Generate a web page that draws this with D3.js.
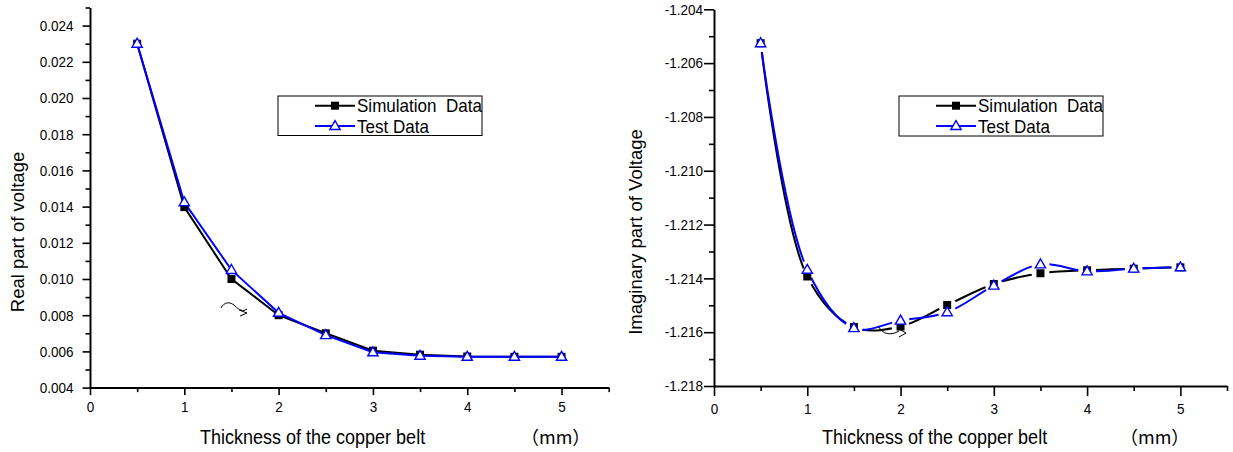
<!DOCTYPE html>
<html><head><meta charset="utf-8">
<script src="https://cdn.jsdelivr.net/npm/d3@7"></script>
<style>
body{margin:0;background:#fff}
svg{display:block}
text{font-family:"Liberation Sans",Arial,sans-serif;fill:#000}
</style>
</head><body>
<svg id="c" width="1233" height="452"></svg>
<script>
// ---- data ----
const thickness = [0.5, 1, 1.5, 2, 2.5, 3, 3.5, 4, 4.5, 5];
const realSim  = [0.0230, 0.01397, 0.0100, 0.0080, 0.0070, 0.00604, 0.00582, 0.00572, 0.0057, 0.0057];
const realTest = [0.0230, 0.01424, 0.0105, 0.00813, 0.0069, 0.00595, 0.00576, 0.0057, 0.0057, 0.0057];
const imagSim  = [-1.20526, -1.21393, -1.21581, -1.21579, -1.21499, -1.21421, -1.21381, -1.2137, -1.21364, -1.21359];
const imagTest = [-1.20526, -1.21368, -1.21585, -1.21557, -1.21526, -1.21427, -1.21348, -1.21374, -1.21364, -1.21359];
const xMajorTicks = [0, 1, 2, 3, 4, 5];
const xMinorTicks = [0.5, 1.5, 2.5, 3.5, 4.5, 5.5];
const realMajorTicks = [0.004, 0.006, 0.008, 0.010, 0.012, 0.014, 0.016, 0.018, 0.020, 0.022, 0.024];
const realMinorTicks = [0.005, 0.007, 0.009, 0.011, 0.013, 0.015, 0.017, 0.019, 0.021, 0.023, 0.025];
const imagMajorTicks = [-1.218, -1.216, -1.214, -1.212, -1.210, -1.208, -1.206, -1.204];
const imagMinorTicks = [-1.217, -1.215, -1.213, -1.211, -1.209, -1.207, -1.205];
const seriesNames = ["Simulation  Data", "Test Data"];
const xTitle = "Thickness of the copper belt";
const xUnit = "（mm）";
const realTitle = "Real part of voltage";
const imagTitle = "Imaginary part of Voltage";

const svg = d3.select("#c");
const font = '"Liberation Sans", Arial, sans-serif';
const fmt3 = v => d3.format(".3f")(v).replace("−", "-");

function squeeze(sel, f) {
  sel.each(function () {
    const l = this.getComputedTextLength();
    this.setAttribute("textLength", (l * f).toFixed(2));
    this.setAttribute("lengthAdjust", "spacingAndGlyphs");
  });
}

function drawChart(cfg) {
  const g = svg.append("g");
  const x = d3.scaleLinear().domain([0, 5.5]).range(cfg.xRange);
  const y = d3.scaleLinear().domain(cfg.yDomain).range(cfg.yRange);

  // minor ticks
  g.append("g").attr("transform", `translate(0,${cfg.yRange[0]})`)
    .call(d3.axisBottom(x).tickValues(xMinorTicks).tickSize(cfg.minorLen).tickFormat(""))
    .call(a => a.select(".domain").remove())
    .call(a => a.selectAll("line").attr("stroke-width", 1.6));
  g.append("g").attr("transform", `translate(${cfg.xRange[0]},0)`)
    .call(d3.axisLeft(y).tickValues(cfg.yMinor).tickSize(cfg.minorLen).tickFormat(""))
    .call(a => a.select(".domain").remove())
    .call(a => a.selectAll("line").attr("stroke-width", 1.6));
  // major
  g.append("g").attr("transform", `translate(0,${cfg.yRange[0]})`)
    .call(d3.axisBottom(x).tickValues(xMajorTicks).tickSize(cfg.majorLen).tickSizeOuter(0)
      .tickPadding(cfg.xPad).tickFormat(d3.format("d")))
    .call(a => a.select(".domain").attr("stroke-width", 2))
    .call(a => a.selectAll("line").attr("stroke-width", 1.6))
    .call(a => a.selectAll("text").style("font-family", font).style("font-size", "15px").call(squeeze, 0.9));
  g.append("g").attr("transform", `translate(${cfg.xRange[0]},0)`)
    .call(d3.axisLeft(y).tickValues(cfg.yMajor).tickSize(cfg.majorLen).tickSizeOuter(0)
      .tickPadding(cfg.yPad).tickFormat(fmt3))
    .call(a => a.select(".domain").attr("stroke-width", 2))
    .call(a => a.selectAll("line").attr("stroke-width", 1.6))
    .call(a => a.selectAll("text").style("font-family", font).style("font-size", "15px").call(squeeze, 0.9));

  // titles
  g.append("text").attr("x", cfg.xTitleX).attr("y", 444)
    .style("font-size", "20px").text(xTitle).call(squeeze, 0.9);
  g.append("text").attr("x", cfg.unitX).attr("y", 444)
    .style("font-size", "18px").style("font-family", '"Noto Sans CJK SC", sans-serif').text(xUnit);
  g.append("text").attr("transform", `translate(${cfg.yTitleX},232) rotate(-90)`)
    .attr("text-anchor", "middle").style("font-size", "18.5px").text(cfg.yTitle);

  // lines
  const line = d3.line().x(d => x(d[0])).y(d => y(d[1])).curve(cfg.curve);
  const series = [
    {vals: cfg.sim, color: "#000", id: cfg.id + "s"},
    {vals: cfg.test, color: "#0000ff", id: cfg.id + "t"}
  ];
  const defs = svg.append("defs");
  series.forEach(s => {
    const pts = thickness.map((t, i) => [t, s.vals[i]]);
    const p = g.append("path").datum(pts).attr("d", line)
      .attr("fill", "none").attr("stroke", s.color).attr("stroke-width", 2);
    if (cfg.gap) {
      const m = defs.append("mask").attr("id", s.id).attr("maskUnits", "userSpaceOnUse")
        .attr("x", 0).attr("y", 0).attr("width", 1233).attr("height", 452);
      m.append("rect").attr("width", 1233).attr("height", 452).attr("fill", "#fff");
      m.selectAll("circle").data(pts).join("circle")
        .attr("cx", d => x(d[0])).attr("cy", d => y(d[1])).attr("r", cfg.gap).attr("fill", "#000");
      p.attr("mask", `url(#${s.id})`);
    }
  });
  // markers
  const simPts = thickness.map((t, i) => [t, cfg.sim[i]]);
  const testPts = thickness.map((t, i) => [t, cfg.test[i]]);
  g.selectAll(".sq").data(simPts).join("rect")
    .attr("x", d => x(d[0]) - 4).attr("y", d => y(d[1]) - 4)
    .attr("width", 8).attr("height", 8).attr("fill", "#000");
  const tri = d3.symbol().type(d3.symbolTriangle).size(46);
  g.selectAll(".tr").data(testPts).join("path")
    .attr("transform", d => `translate(${x(d[0])},${y(d[1]) + 0.5})`)
    .attr("d", tri).attr("fill", "#fff").attr("stroke", "#0000ff").attr("stroke-width", 1.4);

  // legend
  const L = cfg.legend;
  const lg = g.append("g").attr("transform", `translate(${L[0]},${L[1]})`);
  lg.append("rect").attr("x", 0).attr("y", 0).attr("width", L[2]).attr("height", L[3])
    .attr("fill", "#fff").attr("stroke", "#000").attr("stroke-width", 1);
  const rows = [9.7, 30];
  series.forEach((s, i) => {
    lg.append("line").attr("x1", 37).attr("x2", 77).attr("y1", rows[i]).attr("y2", rows[i])
      .attr("stroke", s.color).attr("stroke-width", 2);
    if (i === 0) {
      lg.append("rect").attr("x", 53).attr("y", rows[i] - 4).attr("width", 8).attr("height", 8).attr("fill", "#000");
    } else {
      lg.append("path").attr("transform", `translate(57,${rows[i] + 0.5})`).attr("d", tri)
        .attr("fill", "#fff").attr("stroke", "#0000ff").attr("stroke-width", 1.4);
    }
    lg.append("text").attr("x", 79).attr("y", rows[i] + 6.5).style("font-size", "18.5px")
      .style("white-space", "pre").text(seriesNames[i]).call(squeeze, 0.92);
  });

  // small squiggle annotation
  const a = g.append("g").attr("transform", `translate(${cfg.squig[0]},${cfg.squig[1]})`)
    .attr("fill", "none").attr("stroke", "#000").attr("stroke-width", 1);
  a.append("path").attr("d", cfg.squigPath);
  a.append("path").attr("d", cfg.squigArrow);
}

drawChart({
  id: "L", xRange: [90, 608.7], yDomain: [0.004, 0.025], yRange: [387.6, 7.5],
  yMajor: realMajorTicks, yMinor: realMinorTicks, majorLen: 7.5, minorLen: 4.5,
  xPad: 6.5, yPad: 9, sim: realSim, test: realTest, curve: d3.curveLinear, gap: 0,
  xTitleX: 200, unitX: 521, yTitleX: 24, yTitle: realTitle,
  legend: [278, 96, 204, 39.5],
  squig: [221, 300],
  squigPath: "M0,8 C3,2 9,1 14,6 C18,10 22,12 26,9",
  squigArrow: "M18,10 L26,13 L19,16"
});
drawChart({
  id: "R", xRange: [714, 1227], yDomain: [-1.218, -1.204], yRange: [386, 9.3],
  yMajor: imagMajorTicks, yMinor: imagMinorTicks, majorLen: 10, minorLen: 5,
  xPad: 7, yPad: 1, sim: imagSim, test: imagTest, curve: d3.curveCatmullRom, gap: 9,
  xTitleX: 822, unitX: 1120, yTitleX: 642, yTitle: imagTitle,
  legend: [899, 96, 204, 40],
  squig: [879, 325],
  squigPath: "M0,2 C3,9 12,11 20,6",
  squigArrow: "M20,4 L27,8 L20,12"
});
</script>
</body></html>
